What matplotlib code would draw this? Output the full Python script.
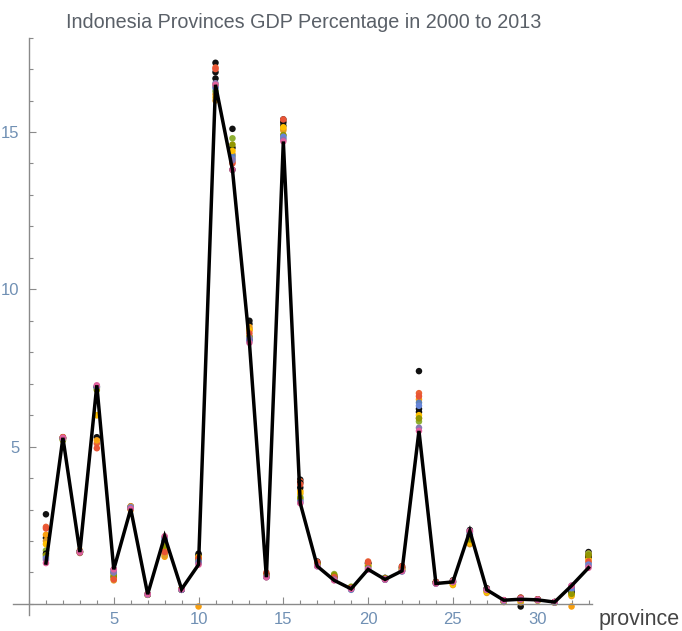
import numpy as np
import matplotlib
matplotlib.use("Agg")
import matplotlib.pyplot as plt
from matplotlib.ticker import MultipleLocator

plt.rcParams['font.family'] = ['Liberation Sans', 'DejaVu Sans']

years = list(range(2000, 2014))
year_colors = ['#111111', '#EB6235', '#111111', '#F89F0E', '#E19C24', '#8FB032',
               '#111111', '#5E81B5', '#FFBF00', '#929600', '#E95536', '#6685D9',
               '#8778B3', '#E0609D']

# GDP share (%) of each province, one value per year 2000..2013
prov_01 = [2.85, 2.45, 2.1, 2.2, 2.0, 1.7, 1.6, 1.5, 1.9, 1.55, 2.4, 1.45, 1.4, 1.3]
prov_02 = [5.3, 5.28, 5.27, 5.3, 5.25, 5.22, 5.26, 5.28, 5.24, 5.2, 5.3, 5.27, 5.25, 5.28]
prov_03 = [1.65, 1.62, 1.68, 1.7, 1.66, 1.64, 1.67, 1.63, 1.66, 1.65, 1.64, 1.66, 1.67, 1.65]
prov_04 = [5.3, 5.1, 6.9, 5.2, 6.0, 6.85, 6.9, 6.88, 6.0, 6.8, 4.95, 6.9, 6.92, 6.95]
prov_05 = [1.1, 0.95, 1.0, 0.8, 0.75, 0.9, 0.85, 1.05, 0.8, 0.9, 0.78, 1.0, 1.02, 1.1]
prov_06 = [3.1, 3.08, 3.05, 3.1, 3.0, 3.02, 3.04, 3.06, 3.0, 3.03, 3.05, 3.07, 3.05, 3.02]
prov_07 = [0.3, 0.31, 0.3, 0.29, 0.3, 0.31, 0.3, 0.3, 0.29, 0.3, 0.31, 0.3, 0.3, 0.31]
prov_08 = [1.75, 1.6, 2.0, 1.5, 1.55, 1.9, 1.8, 2.05, 1.7, 1.85, 1.65, 2.1, 2.12, 2.15]
prov_09 = [0.45, 0.47, 0.46, 0.48, 0.45, 0.47, 0.46, 0.45, 0.48, 0.47, 0.46, 0.45, 0.46, 0.47]
prov_10 = [1.6, 1.5, 1.45, -0.08, 1.4, 1.35, 1.55, 1.3, 1.5, 1.4, 1.45, 1.35, 1.3, 1.25]
prov_11 = [17.2, 17.05, 16.9, 16.2, 16.0, 16.3, 16.7, 16.4, 16.1, 16.5, 17.0, 16.45, 16.55, 16.5]
prov_12 = [15.1, 14.05, 14.5, 14.3, 14.2, 14.8, 13.8, 14.25, 14.4, 14.6, 14.0, 14.15, 14.1, 13.8]
prov_13 = [9.0, 8.7, 8.9, 8.8, 8.75, 8.5, 8.4, 8.35, 8.7, 8.5, 8.6, 8.4, 8.45, 8.3]
prov_14 = [0.95, 0.9, 0.92, 0.88, 0.85, 0.9, 0.87, 0.86, 0.9, 0.88, 1.0, 0.85, 0.87, 0.85]
prov_15 = [15.4, 15.35, 15.3, 15.1, 15.05, 14.9, 15.2, 14.8, 15.15, 14.9, 15.4, 14.85, 14.75, 14.7]
prov_16 = [3.95, 3.9, 3.85, 3.6, 3.5, 3.4, 3.7, 3.3, 3.55, 3.35, 3.8, 3.25, 3.22, 3.2]
prov_17 = [1.35, 1.32, 1.3, 1.28, 1.25, 1.27, 1.3, 1.22, 1.26, 1.24, 1.33, 1.2, 1.21, 1.2]
prov_18 = [0.9, 0.88, 0.85, 0.82, 0.8, 0.95, 0.83, 0.78, 0.8, 0.92, 0.85, 0.77, 0.76, 0.75]
prov_19 = [0.5, 0.52, 0.5, 0.48, 0.5, 0.55, 0.49, 0.45, 0.5, 0.52, 0.51, 0.47, 0.48, 0.48]
prov_20 = [1.3, 1.35, 1.28, 1.2, 1.25, 1.22, 1.3, 1.15, 1.22, 1.18, 1.32, 1.12, 1.1, 1.1]
prov_21 = [0.82, 0.8, 0.83, 0.78, 0.8, 0.82, 0.79, 0.77, 0.8, 0.81, 0.8, 0.78, 0.77, 0.78]
prov_22 = [1.2, 1.18, 1.15, 1.1, 1.12, 1.08, 1.15, 1.05, 1.1, 1.07, 1.2, 1.04, 1.03, 1.05]
prov_23 = [7.4, 6.7, 6.2, 6.5, 5.9, 5.8, 6.1, 6.4, 6.0, 5.9, 6.6, 6.3, 5.6, 5.5]
prov_24 = [0.7, 0.68, 0.7, 0.66, 0.67, 0.68, 0.69, 0.65, 0.67, 0.66, 0.7, 0.65, 0.66, 0.65]
prov_25 = [0.75, 0.72, 0.7, 0.65, 0.6, 0.68, 0.7, 0.72, 0.62, 0.69, 0.73, 0.7, 0.71, 0.7]
prov_26 = [2.35, 2.3, 2.2, 2.0, 1.9, 2.1, 2.15, 2.25, 1.95, 2.05, 2.3, 2.28, 2.32, 2.32]
prov_27 = [0.5, 0.45, 0.48, 0.4, 0.35, 0.42, 0.47, 0.45, 0.38, 0.44, 0.48, 0.46, 0.45, 0.45]
prov_28 = [0.1, 0.12, 0.1, 0.08, 0.06, 0.1, 0.11, 0.1, 0.08, 0.09, 0.12, 0.1, 0.11, 0.12]
prov_29 = [0.2, 0.18, -0.08, 0.1, 0.05, 0.15, 0.18, 0.16, 0.12, 0.14, 0.2, 0.15, 0.16, 0.15]
prov_30 = [0.15, 0.14, 0.13, 0.12, 0.1, 0.13, 0.14, 0.12, 0.11, 0.13, 0.15, 0.12, 0.13, 0.13]
prov_31 = [0.06, 0.05, 0.06, 0.05, 0.04, 0.05, 0.06, 0.05, 0.04, 0.05, 0.06, 0.05, 0.05, 0.06]
prov_32 = [0.5, 0.45, 0.4, -0.08, 0.25, 0.3, 0.35, 0.45, 0.28, 0.32, 0.55, 0.5, 0.58, 0.58]
prov_33 = [1.65, 1.6, 1.55, 1.5, 1.45, 1.6, 1.5, 1.3, 1.4, 1.55, 1.35, 1.25, 1.2, 1.15]

provinces = np.arange(1, 34)
shares = np.array([prov_01, prov_02, prov_03, prov_04, prov_05, prov_06, prov_07,
                   prov_08, prov_09, prov_10, prov_11, prov_12, prov_13, prov_14,
                   prov_15, prov_16, prov_17, prov_18, prov_19, prov_20, prov_21,
                   prov_22, prov_23, prov_24, prov_25, prov_26, prov_27, prov_28,
                   prov_29, prov_30, prov_31, prov_32, prov_33])

fig = plt.figure(figsize=(6.82, 6.31), dpi=100)
ax = fig.add_axes([0.0189, 0.0254, 0.849, 0.915])

for j, year in enumerate(years):
    ax.scatter(provinces, shares[:, j], s=22, color=year_colors[j],
               edgecolors='none', zorder=2, label=str(year))

# latest year drawn as the connecting line
ax.plot(provinces, shares[:, -1], color='black', lw=2.5, zorder=3,
        solid_joinstyle='miter')

ax.set_xlim(-0.95, 33.2)
ax.set_ylim(-0.35, 18.0)

ax.spines['left'].set_position(('data', 0))
ax.spines['bottom'].set_position(('data', 0))
ax.spines['top'].set_visible(False)
ax.spines['right'].set_visible(False)
for s in ('left', 'bottom'):
    ax.spines[s].set_color('#8a8a8a')
    ax.spines[s].set_linewidth(1.0)

ax.xaxis.set_major_locator(MultipleLocator(5))
ax.xaxis.set_minor_locator(MultipleLocator(1))
ax.yaxis.set_major_locator(MultipleLocator(5))
ax.yaxis.set_minor_locator(MultipleLocator(1))

tick_color = '#7090b4'
ax.tick_params(axis='both', which='major', direction='in', length=5, width=0.8,
               color='#8a8a8a', labelcolor=tick_color, labelsize=12)
ax.tick_params(axis='both', which='minor', direction='in', length=3, width=0.8,
               color='#8a8a8a')
ax.tick_params(axis='x', which='major', pad=6)
ax.tick_params(axis='y', which='major', pad=7)

ax.set_xticks([5, 10, 15, 20, 25, 30])
ax.set_yticks([5, 10, 15])

fig.text(0.4455, 0.965, 'Indonesia Provinces GDP Percentage in 2000 to 2013',
         ha='center', va='center', fontsize=14.2, color='#5a6068')
fig.text(0.877, 0.019, 'province', ha='left', va='center', fontsize=15.5,
         color='#444444')

fig.savefig('out.png', dpi=100)
